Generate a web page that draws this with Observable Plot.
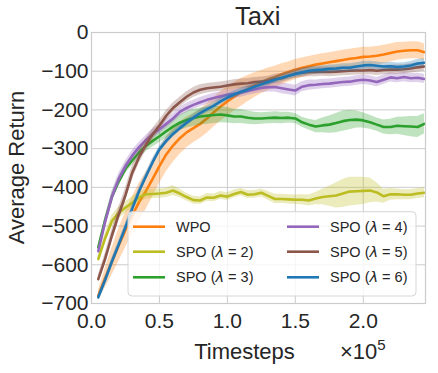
<!DOCTYPE html>
<html>
<head>
<meta charset="utf-8">
<script src="https://cdn.jsdelivr.net/npm/d3@7"></script>
<script src="https://cdn.jsdelivr.net/npm/@observablehq/plot@0.6"></script>
<style>
  html, body { margin: 0; padding: 0; background: #fff; }
  #wrap { position: relative; width: 438px; height: 373px; overflow: hidden; }
  #overlay { position: absolute; left: 0; top: 0; pointer-events: none; }
</style>
</head>
<body>
<div id="wrap"></div>
<script>
// ---- data ----
const timesteps = [0.05,0.10,0.15,0.20,0.25,0.30,0.35,0.40,0.45,0.50,0.55,0.60,0.65,0.70,0.75,0.80,0.85,0.90,0.95,1.00,1.05,1.10,1.15,1.20,1.25,1.30,1.35,1.40,1.45,1.50,1.55,1.60,1.65,1.70,1.75,1.80,1.85,1.90,1.95,2.00,2.05,2.10,2.15,2.20,2.25,2.30,2.35,2.40,2.45];

const wpo = [-680,-635,-592,-550,-510,-472,-438,-410,-378,-345,-315,-292,-273,-258,-247,-236,-222,-206,-191,-178,-166,-155,-145,-136,-128,-121,-115,-108,-102,-96,-91,-87,-83,-80,-77,-74,-71,-68,-66,-63,-62,-60,-57,-53,-49,-47,-46,-46,-51];
const wpoErr = [12,25,35,42,46,48,48,48,47,46,45,44,42,40,38,38,38,38,38,38,37,36,34,32,30,29,28,27,26,26,25,25,25,25,25,25,25,25,25,25,24,24,24,23,23,22,22,22,22];

const spo2 = [-585,-532,-487,-466,-452,-440,-426,-418,-417,-416,-414,-408,-416,-425,-433,-434,-426,-427,-421,-424,-417,-412,-419,-418,-414,-422,-430,-430,-431,-432,-432,-434,-429,-425,-423,-421,-416,-411,-410,-409,-408,-413,-423,-418,-418,-419,-419,-416,-414];
const spo2Err = [8,12,15,15,15,15,14,13,12,12,12,13,11,10,10,10,10,10,10,10,10,10,10,10,10,11,12,12,12,12,13,14,16,20,26,32,36,37,36,35,32,25,18,15,14,13,13,13,13];

const spo3 = [-555,-485,-425,-385,-352,-330,-310,-293,-280,-268,-255,-243,-233,-226,-221,-217,-215,-213,-212,-214,-217,-217,-220,-222,-222,-221,-220,-221,-220,-222,-232,-238,-243,-240,-238,-234,-229,-226,-225,-227,-232,-238,-244,-244,-241,-242,-243,-244,-236];
const spo3Err = [8,10,12,12,12,13,14,15,16,17,18,19,20,21,22,22,22,22,21,20,19,18,17,16,15,15,15,15,14,13,13,14,16,19,22,25,26,25,22,20,18,17,18,20,22,24,26,27,26];

const spo4 = [-565,-490,-425,-378,-345,-318,-296,-278,-262,-250,-236,-222,-205,-195,-187,-180,-174,-169,-165,-161,-158,-155,-151,-147,-143,-141,-141,-144,-147,-150,-140,-136,-135,-133,-132,-130,-128,-127,-124,-122,-124,-128,-122,-116,-118,-115,-118,-117,-120];
const spo4Err = [8,12,14,14,13,13,12,12,12,12,12,12,12,12,12,12,12,12,12,12,12,12,12,12,12,13,13,14,14,14,13,13,12,12,12,12,12,12,12,12,12,12,12,12,12,12,12,12,12];

const spo5 = [-637,-585,-525,-470,-420,-362,-322,-290,-263,-240,-215,-195,-180,-166,-155,-148,-144,-142,-140,-137,-134,-132,-131,-128,-127,-125,-120,-118,-112,-106,-104,-102,-102,-101,-102,-101,-100,-99,-98,-98,-97,-99,-97,-96,-96,-95,-93,-90,-88];
const spo5Err = [10,14,16,18,18,18,17,16,15,14,13,13,13,13,13,13,12,12,12,12,12,12,12,12,12,12,12,12,12,12,12,12,12,12,12,12,12,12,12,12,12,12,12,12,12,12,12,12,12];

const spo6 = [-684,-640,-592,-548,-503,-455,-410,-372,-335,-302,-280,-262,-247,-233,-220,-208,-198,-189,-178,-168,-160,-153,-147,-140,-134,-128,-122,-117,-112,-107,-103,-99,-97,-96,-94,-93,-91,-91,-88,-85,-84,-86,-88,-87,-89,-88,-85,-80,-78];
const spo6Err = [8,10,10,10,10,10,10,10,10,9,9,9,9,9,9,9,9,9,9,9,9,9,9,9,9,9,9,9,9,9,10,10,10,10,10,10,10,10,10,10,10,10,10,10,10,10,10,10,10];

const seriesNames = ["WPO", "SPO (λ = 2)", "SPO (λ = 3)", "SPO (λ = 4)", "SPO (λ = 5)", "SPO (λ = 6)"];
const seriesColors = ["#ff7f0e", "#bcbd22", "#2ca02c", "#9467bd", "#8c564b", "#1f77b4"];
const seriesValues = [wpo, spo2, spo3, spo4, spo5, spo6];
const seriesErrors = [wpoErr, spo2Err, spo3Err, spo4Err, spo5Err, spo6Err];

const xTicks = [0, 0.5, 1.0, 1.5, 2.0];
const yTicks = [0, -100, -200, -300, -400, -500, -600, -700];

const titleText = "Taxi";
const xLabel = "Timesteps";
const yLabel = "Average Return";

// ---- build ----
const W = 438, H = 373;
const font = "'Liberation Sans', Arial, sans-serif";
const textColor = "#262626";

const marks = [
  Plot.gridX(xTicks, {stroke: "#cccccc", strokeOpacity: 1, strokeWidth: 1}),
  Plot.gridY(yTicks, {stroke: "#cccccc", strokeOpacity: 1, strokeWidth: 1}),
];
seriesNames.forEach((name, k) => {
  const rows = timesteps.map((t, i) => ({
    t, v: seriesValues[k][i],
    lo: seriesValues[k][i] - seriesErrors[k][i],
    hi: seriesValues[k][i] + seriesErrors[k][i]
  }));
  marks.push(Plot.areaY(rows, {x: "t", y1: "lo", y2: "hi", fill: seriesColors[k], fillOpacity: 0.3}));
  marks.push(Plot.line(rows, {x: "t", y: "v", stroke: seriesColors[k], strokeWidth: 2.6, strokeLinejoin: "round"}));
});
marks.push(Plot.frame({stroke: "#cccccc", strokeWidth: 1.2}));
marks.push(Plot.axisX(xTicks, {tickSize: 0, tickPadding: 10, tickFormat: d3.format(".1f"), fontSize: 21, label: null, fill: textColor}));
marks.push(Plot.axisY(yTicks, {tickSize: 0, tickPadding: 3, tickFormat: d3.format("d"), fontSize: 21, label: null, fill: textColor}));

const chart = Plot.plot({
  width: W, height: H,
  marginLeft: 91, marginRight: 13, marginTop: 32, marginBottom: 70,
  x: {domain: [0, 2.458]},
  y: {domain: [-700, 0]},
  style: {fontFamily: font, fontSize: "21px", background: "#fff", color: textColor},
  marks
});
const wrap = document.getElementById("wrap");
wrap.appendChild(chart);

// ---- overlay text: title, axis labels, offset, legend ----
const svg = d3.select(wrap).append("svg")
  .attr("id", "overlay").attr("width", W).attr("height", H)
  .style("font-family", font).style("fill", textColor);

svg.append("text").attr("x", 257.8).attr("y", 25).attr("text-anchor", "middle")
  .style("font-size", "25.5px").text(titleText);
svg.append("text").attr("x", 244.5).attr("y", 359).attr("text-anchor", "middle")
  .style("font-size", "22px").text(xLabel);
const off = svg.append("text").attr("x", 340).attr("y", 359).style("font-size", "22px");
off.append("tspan").text("×10");
off.append("tspan").attr("dy", -9).style("font-size", "15px").text("5");
svg.append("text").attr("transform", "translate(23.5,167.5) rotate(-90)")
  .attr("text-anchor", "middle").style("font-size", "22px").text(yLabel);

// legend
const lg = svg.append("g");
lg.append("rect").attr("x", 128).attr("y", 211.7).attr("width", 288).attr("height", 84.3)
  .attr("rx", 4).attr("fill", "#fff").attr("fill-opacity", 0.8)
  .attr("stroke", "#d6d6d6").attr("stroke-width", 1);
const rowY = [226.7, 251.7, 277.3];
const colX = [133, 287];
seriesNames.forEach((name, k) => {
  const c = Math.floor(k / 3), r = k % 3;
  const x0 = colX[c], y0 = rowY[r];
  lg.append("line").attr("x1", x0).attr("x2", x0 + 32).attr("y1", y0).attr("y2", y0)
    .attr("stroke", seriesColors[k]).attr("stroke-width", 2.6);
  const t = lg.append("text").attr("x", x0 + 43).attr("y", y0 + 5).style("font-size", "14.5px");
  const parts = name.split("λ");
  t.append("tspan").text(parts[0]);
  if (parts.length > 1) {
    t.append("tspan").style("font-style", "italic").style("font-family", "'DejaVu Sans', sans-serif").text("λ");
    t.append("tspan").text(parts[1]);
  }
});
</script>
</body>
</html>
